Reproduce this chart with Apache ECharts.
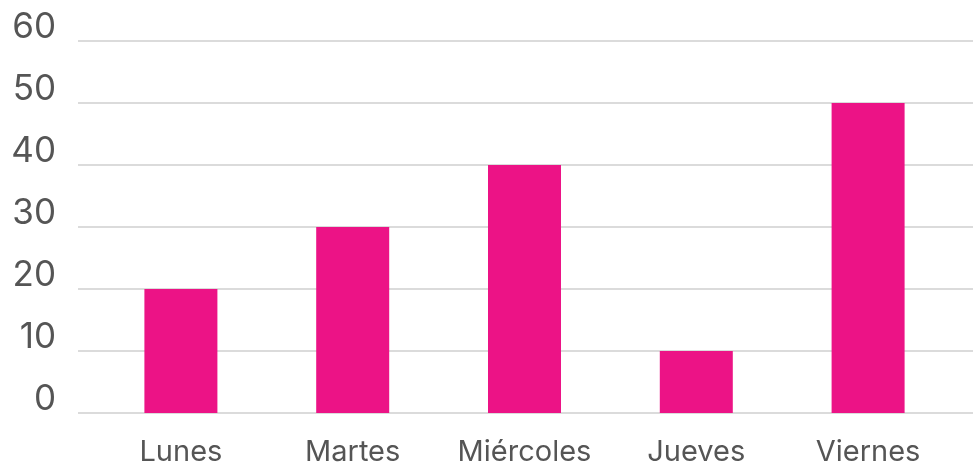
<!DOCTYPE html>
<html>
<head>
<meta charset="utf-8">
<script src="https://cdn.jsdelivr.net/npm/echarts@6/dist/echarts.min.js"></script>
<style>
  html, body { margin: 0; padding: 0; background: #ffffff; }
  #chart { width: 973px; height: 462px; }
</style>
</head>
<body>
<div id="chart"></div>
<script>
// Days of the week and their values
const categories = ['Lunes', 'Martes', 'Miércoles', 'Jueves', 'Viernes'];
const values = [20, 30, 40, 10, 50];
const yTicks = [0, 10, 20, 30, 40, 50, 60];

const FONT = 'Inter';
const TEXT = '#555555';
const GRID_LINE = '#cfcfcf';
const BAR = '#ec1386';

const chart = echarts.init(document.getElementById('chart'), null, { renderer: 'canvas' });

chart.setOption({
  animation: false,
  backgroundColor: '#ffffff',
  grid: [
    // full-width grid carrying the value labels and gridlines
    { left: 78, right: 0, top: 41, bottom: 49, containLabel: false, outerBoundsMode: 'none' },
    // grid holding the bars and the day labels
    { left: 95, right: 19, top: 41, bottom: 49, containLabel: false, outerBoundsMode: 'none' }
  ],
  xAxis: [
    { gridIndex: 0, type: 'category', data: categories, show: false },
    {
      gridIndex: 1,
      type: 'category',
      data: categories,
      axisLine: { show: false },
      axisTick: { show: false },
      axisLabel: {
        color: TEXT, fontFamily: FONT, fontSize: 29, margin: 25,
        interval: 0, hideOverlap: false
      }
    }
  ],
  yAxis: [
    {
      gridIndex: 0,
      type: 'value',
      min: yTicks[0],
      max: yTicks[yTicks.length - 1],
      interval: 10,
      axisLine: { show: false },
      axisTick: { show: false },
      splitLine: { lineStyle: { color: GRID_LINE, width: 1.5 } },
      axisLabel: {
        color: TEXT, fontFamily: FONT, fontSize: 35, margin: 22,
        verticalAlign: 'bottom', lineHeight: 27
      }
    },
    {
      gridIndex: 1,
      type: 'value',
      min: yTicks[0],
      max: yTicks[yTicks.length - 1],
      interval: 10,
      show: false
    }
  ],
  series: [
    {
      type: 'bar',
      xAxisIndex: 1,
      yAxisIndex: 1,
      data: values,
      barWidth: 73,
      itemStyle: { color: BAR }
    }
  ]
});
</script>
</body>
</html>
